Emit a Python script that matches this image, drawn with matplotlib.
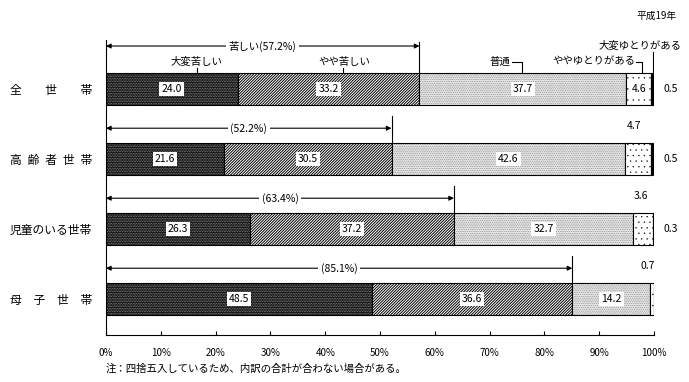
import numpy as np
import matplotlib.pyplot as plt

plt.rcParams['font.family'] = ['Noto Sans CJK JP', 'DejaVu Sans']

# data (平成19年, 生活意識別世帯数の構成割合 %)
households = ['全　　世　　帯', '高\u2002齢\u2002者\u2002世\u2002帯', '児童のいる世帯', '母　子　世　帯']
very_hard = [24.0, 21.6, 26.3, 48.5]
bit_hard = [33.2, 30.5, 37.2, 36.6]
normal = [37.7, 42.6, 32.7, 14.2]
bit_easy = [4.6, 4.7, 3.6, 0.7]
very_easy = [0.5, 0.5, 0.3, 0.0]
hard_total = ['57.2', '52.2', '63.4', '85.1']
categories = ['大変苦しい', 'やや苦しい', '普通', 'ややゆとりがある', '大変ゆとりがある']

fig = plt.figure(figsize=(6.89, 3.82), dpi=100)
ax = fig.add_axes([106/689, 47/382, 548/689, 295/382])

series = [very_hard, bit_hard, normal, bit_easy, very_easy]
# (face, hatch colour, hatch, hatch linewidth)
styles = [('#1a1a1a', '#b0b0b0', '..........', 0.3),
          ('white', 'black', '////////////', 0.7),
          ('#e4e4e4', '#707070', '.........', 0.3),
          ('white', 'black', '...', 0.2),
          ('black', 'black', '', 0.5)]

y = np.arange(len(households))
h = 0.47
left = np.zeros(len(households))
edges = []
for vals, (fc, hc, ht, hl) in zip(series, styles):
    vals = np.array(vals)
    with plt.rc_context({'hatch.linewidth': hl}):
        ax.barh(y, vals, h, left=left, color=fc, edgecolor=hc, hatch=ht, lw=0)
    ax.barh(y, vals, h, left=left, fill=False, edgecolor='black', lw=0.8)
    edges.append(left + vals)
    left = left + vals

box = dict(facecolor='white', edgecolor='none', pad=1.5)
fs = 7.5

# value labels inside the bars
for k in range(3):
    vals = np.array(series[k])
    centers = edges[k] - vals / 2
    for i in range(len(y)):
        ax.text(centers[i], y[i], f'{vals[i]:.1f}', ha='center', va='center',
                fontsize=fs, bbox=box)
ax.text(edges[3][0] - bit_easy[0] / 2, y[0], f'{bit_easy[0]:.1f}', ha='center',
        va='center', fontsize=fs, bbox=box)
small_x = [96.4, 97.6, 98.9]
for i in range(1, 4):
    ax.text(small_x[i - 1], y[i] - 0.47, f'{bit_easy[i]:.1f}', ha='center',
            va='center', fontsize=fs)
for i in range(3):
    ax.text(103.1, y[i], f'{very_easy[i]:.1f}', ha='center', va='center',
            fontsize=fs, clip_on=False)

# 苦しい arrows
for i in range(len(y)):
    x_end = edges[1][i]
    ay = y[i] - (0.614 if i == 0 else 0.44)
    top = y[i] - (0.67 if i == 0 else 0.61)
    ax.annotate('', xy=(0, ay), xytext=(x_end, ay),
                arrowprops=dict(arrowstyle='<|-|>', lw=0.8, color='black',
                                shrinkA=0, shrinkB=0, mutation_scale=7))
    ax.plot([x_end, x_end], [top, y[i] - h / 2], color='black', lw=0.8)
    lab = f'苦しい({hard_total[i]}%)' if i == 0 else f'({hard_total[i]}%)'
    ax.text(x_end / 2, ay, lab, ha='center', va='center', fontsize=fs,
            bbox=dict(facecolor='white', edgecolor='none', pad=2))

# category labels on the first bar
bt = y[0] - h / 2
ly = y[0] - 0.39
ax.text(16.6, ly, categories[0], ha='center', va='center', fontsize=fs)
ax.plot([16.6, 16.6], [ly + 0.09, bt], color='black', lw=0.8)
ax.text(43.5, ly, categories[1], ha='center', va='center', fontsize=fs)
ax.plot([43.3, 43.3], [ly + 0.09, bt], color='black', lw=0.8)
ax.text(73.7, ly, categories[2], ha='right', va='center', fontsize=fs)
ax.plot([74.0, 75.9, 75.9], [ly, ly, bt], color='black', lw=0.8)
ax.text(96.6, ly, categories[3], ha='right', va='center', fontsize=fs)
ax.plot([96.8, 97.8, 97.8], [ly, ly, bt], color='black', lw=0.8)
ax.text(97.4, y[0] - 0.614, categories[4], ha='center', va='center',
        fontsize=fs, clip_on=False)
ax.plot([99.8, 99.8], [y[0] - 0.53, bt], color='black', lw=0.8)

ax.text(104.2, -1.04, '平成19年', ha='right', va='center', fontsize=7,
        clip_on=False)

ax.set_xlim(0, 100)
ax.set_ylim(3.514, -0.7)
ax.set_xticks(range(0, 101, 10))
ax.set_xticklabels([f'{t}%' for t in range(0, 101, 10)], fontsize=7)
ax.tick_params(axis='x', direction='in', length=3, pad=9)
ax.set_yticks(y)
ax.set_yticklabels(households, fontsize=8.5)
ax.tick_params(axis='y', length=0, pad=10)
ax.spines['top'].set_visible(False)
ax.spines['right'].set_visible(False)
for s in ['left', 'bottom']:
    ax.spines[s].set_linewidth(0.8)

fig.text(106/689, 1 - 369/382, '注：四捨五入しているため、内訳の合計が合わない場合がある。',
         ha='left', va='center', fontsize=7.5)

fig.savefig('out.png', dpi=100)
